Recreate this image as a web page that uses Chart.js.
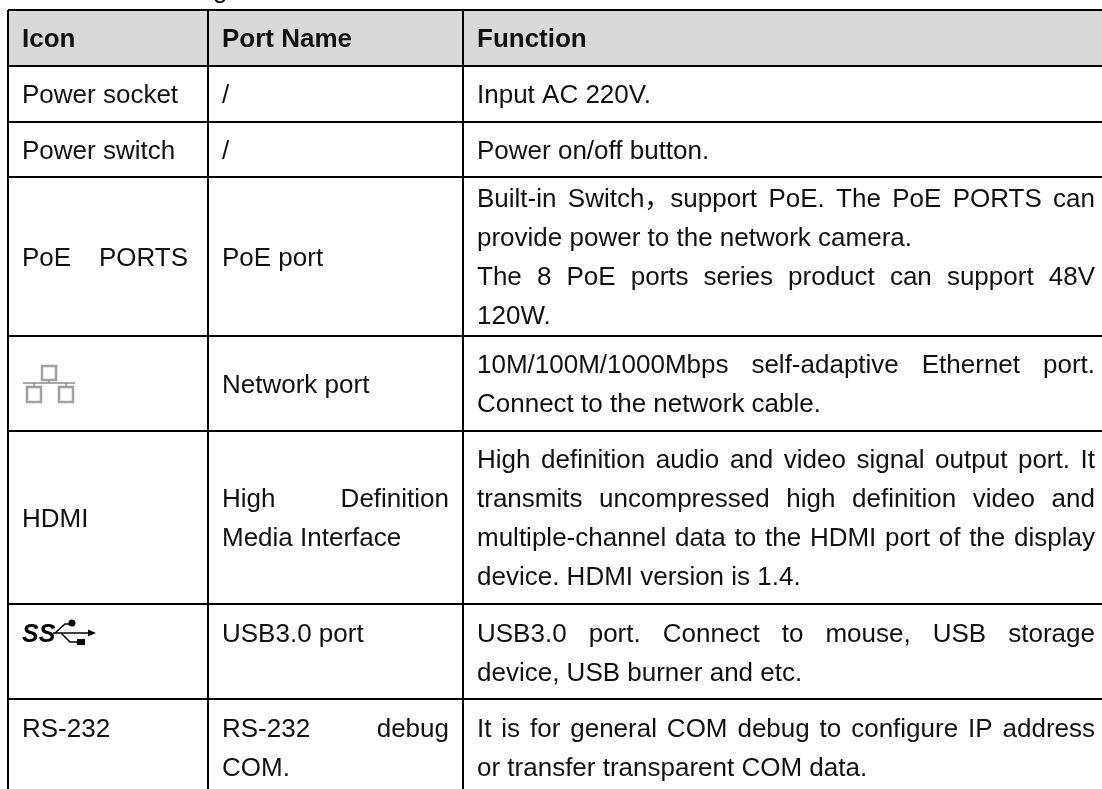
<!DOCTYPE html>
<html>
<head>
<meta charset="utf-8">
<title>Port table</title>
<script src="https://cdn.jsdelivr.net/npm/chart.js@4"></script>
<style>
  html, body { margin: 0; padding: 0; background: #fff; }
  canvas { display: block; filter: blur(0.4px); }
</style>
</head>
<body>
<canvas id="table" width="1102" height="789"></canvas>
<script>
// Table contents, one list per column. Each cell is a list of text lines.
const headers = ['Icon', 'Port Name', 'Function'];
const iconCol = [['Power socket'], ['Power switch'], ['PoE PORTS'], [], ['HDMI'], [], ['RS-232']];
const nameCol = [['/'], ['/'], ['PoE port'], ['Network port'],
    ['High Definition', 'Media Interface'], ['USB3.0 port'], ['RS-232 debug', 'COM.']];
const funcCol = [
    ['Input AC 220V.'],
    ['Power on/off button.'],
    ['Built-in Switch\uFF0Csupport PoE. The PoE PORTS can', 'provide power to the network camera.',
     'The 8 PoE ports series product can support 48V', '120W.'],
    ['10M/100M/1000Mbps self-adaptive Ethernet port.', 'Connect to the network cable.'],
    ['High definition audio and video signal output port. It', 'transmits uncompressed high definition video and',
     'multiple-channel data to the HDMI port of the display', 'device. HDMI version is 1.4.'],
    ['USB3.0 port. Connect to mouse, USB storage', 'device, USB burner and etc.'],
    ['It is for general COM debug to configure IP address', 'or transfer transparent COM data.']
];
// Lines that run the full cell width in the original (justified text).
const justifiedIcon = ['PoE PORTS'];
const justifiedName = ['High Definition', 'RS-232 debug'];
const justifiedFunc = ['Built-in Switch\uFF0Csupport PoE. The PoE PORTS can',
    'The 8 PoE ports series product can support 48V', '10M/100M/1000Mbps self-adaptive Ethernet port.',
    'High definition audio and video signal output port. It', 'transmits uncompressed high definition video and',
    'multiple-channel data to the HDMI port of the display', 'USB3.0 port. Connect to mouse, USB storage',
    'It is for general COM debug to configure IP address'];
// Rows whose cells start at the top instead of being centred.
const topAlignedRows = [5, 6];

// Table grid, in axis units. The table runs on past the right and bottom edge of the page.
const colEdges = [8, 208, 463];
const rowEdges = [10, 66, 122, 177, 336, 431, 604, 699];
const AXIS_RIGHT = 1102;
const AXIS_BOTTOM = 789;
const TEXT_RIGHT = [188, 449, 1095];

const FONT_SIZE = 26;
const LINE_HEIGHT = 39;
const PAD_X = 14;
const FONT = '"Liberation Sans", "Noto Sans CJK SC", Arial, sans-serif';

function drawLine(ctx, text, x, baseline, width, justified) {
    ctx.wordSpacing = '0px';
    if (justified) {
        const gaps = text.split(' ').length - 1;
        const extra = (width - ctx.measureText(text).width) / gaps;
        ctx.wordSpacing = Math.max(extra, 0) + 'px';
    }
    ctx.fillText(text, x, baseline);
    ctx.wordSpacing = '0px';
}

function drawCell(ctx, lines, x0, x1, y0, y1, justifyList, alignTop) {
    const total = lines.length * LINE_HEIGHT;
    const top = alignTop ? y0 + 9 : (y0 + y1) / 2 - total / 2;
    lines.forEach((line, i) => {
        const baseline = top + LINE_HEIGHT * i + LINE_HEIGHT / 2 + FONT_SIZE * 0.36;
        const justified = justifyList && justifyList.includes(line);
        drawLine(ctx, line, x0 + PAD_X, baseline, x1 - x0 - PAD_X, justified);
    });
}

function drawNetworkIcon(ctx, cx, cy) {
    ctx.save();
    ctx.filter = 'blur(0.7px)';
    ctx.strokeStyle = '#a0a0a0';
    ctx.lineWidth = 2.5;
    ctx.strokeRect(cx - 7, cy - 17, 14, 14);
    ctx.strokeRect(cx - 22, cy + 4, 14, 15);
    ctx.strokeRect(cx + 10, cy + 4, 14, 15);
    ctx.strokeStyle = '#8c8c8c';
    ctx.lineWidth = 1.5;
    ctx.beginPath();
    ctx.moveTo(cx - 26, cy);
    ctx.lineTo(cx + 26, cy);
    ctx.moveTo(cx, cy - 3);
    ctx.lineTo(cx, cy);
    ctx.moveTo(cx - 15, cy);
    ctx.lineTo(cx - 15, cy + 4);
    ctx.moveTo(cx + 17, cy);
    ctx.lineTo(cx + 17, cy + 4);
    ctx.stroke();
    ctx.restore();
}

function drawUsbIcon(ctx, x, y) {
    ctx.save();
    ctx.font = 'italic bold 25px ' + FONT;
    ctx.fillStyle = '#000';
    ctx.fillText('SS', x, y + 9);
    ctx.strokeStyle = '#000';
    ctx.lineWidth = 1.5;
    ctx.beginPath();
    ctx.moveTo(x + 31, y);
    ctx.lineTo(x + 68, y);
    ctx.moveTo(x + 33, y);
    ctx.lineTo(x + 43, y - 9);
    ctx.lineTo(x + 48, y - 9);
    ctx.moveTo(x + 39, y);
    ctx.lineTo(x + 48, y + 9);
    ctx.lineTo(x + 56, y + 9);
    ctx.stroke();
    ctx.beginPath();
    ctx.arc(x + 50, y - 10, 3.5, 0, Math.PI * 2);
    ctx.fill();
    ctx.fillRect(x + 55, y + 6, 8, 6);
    ctx.beginPath();
    ctx.moveTo(x + 74, y);
    ctx.lineTo(x + 66, y - 3.5);
    ctx.lineTo(x + 66, y + 3.5);
    ctx.closePath();
    ctx.fill();
    ctx.restore();
}

const tableText = {
    id: 'tableText',
    afterDraw(chart) {
        const { ctx, scales: { x, y } } = chart;
        const xs = colEdges.map(v => x.getPixelForValue(v));
        const ys = rowEdges.concat(AXIS_BOTTOM).map(v => y.getPixelForValue(v));
        ctx.save();
        ctx.fillStyle = '#111';
        ctx.textBaseline = 'alphabetic';
        ctx.textAlign = 'left';

        ctx.font = FONT_SIZE + 'px ' + FONT;
        ctx.fillText('g', 213, -2.5); // tail of the caption cut off above the table

        ctx.font = 'bold ' + FONT_SIZE + 'px ' + FONT;
        headers.forEach((h, c) => drawCell(ctx, [h], xs[c], TEXT_RIGHT[c], ys[0], ys[1]));

        ctx.font = FONT_SIZE + 'px ' + FONT;
        funcCol.forEach((lines, r) => {
            const y0 = ys[r + 1], y1 = ys[r + 2];
            const alignTop = topAlignedRows.includes(r);
            drawCell(ctx, iconCol[r], xs[0], TEXT_RIGHT[0], y0, y1, justifiedIcon, alignTop);
            drawCell(ctx, nameCol[r], xs[1], TEXT_RIGHT[1], y0, y1, justifiedName, alignTop);
            drawCell(ctx, lines, xs[2], TEXT_RIGHT[2], y0, y1, justifiedFunc, alignTop);
        });

        drawNetworkIcon(ctx, 49, 383);
        drawUsbIcon(ctx, 22, 633);
        ctx.restore();
    }
};

const gridLine = { color: '#000', lineWidth: 2, drawTicks: false, z: 1 };

new Chart(document.getElementById('table'), {
    type: 'scatter',
    data: {
        datasets: [{
            // header row shading
            type: 'line',
            data: [{ x: colEdges[0], y: rowEdges[1] }, { x: AXIS_RIGHT, y: rowEdges[1] }],
            fill: { value: rowEdges[0] },
            backgroundColor: '#d9d9d9',
            borderWidth: 0,
            pointRadius: 0
        }]
    },
    options: {
        responsive: false,
        animation: false,
        layout: { padding: { left: colEdges[0], top: rowEdges[0], right: 0, bottom: 0 } },
        plugins: { legend: { display: false }, tooltip: { enabled: false } },
        scales: {
            x: {
                type: 'linear',
                min: colEdges[0],
                max: AXIS_RIGHT,
                afterBuildTicks: s => { s.ticks = colEdges.map(value => ({ value })); },
                ticks: { display: false },
                border: { display: false },
                grid: gridLine
            },
            y: {
                type: 'linear',
                reverse: true,
                min: rowEdges[0],
                max: AXIS_BOTTOM,
                afterBuildTicks: s => { s.ticks = rowEdges.map(value => ({ value })); },
                ticks: { display: false },
                border: { display: false },
                grid: gridLine
            }
        }
    },
    plugins: [tableText]
});
</script>
</body>
</html>
